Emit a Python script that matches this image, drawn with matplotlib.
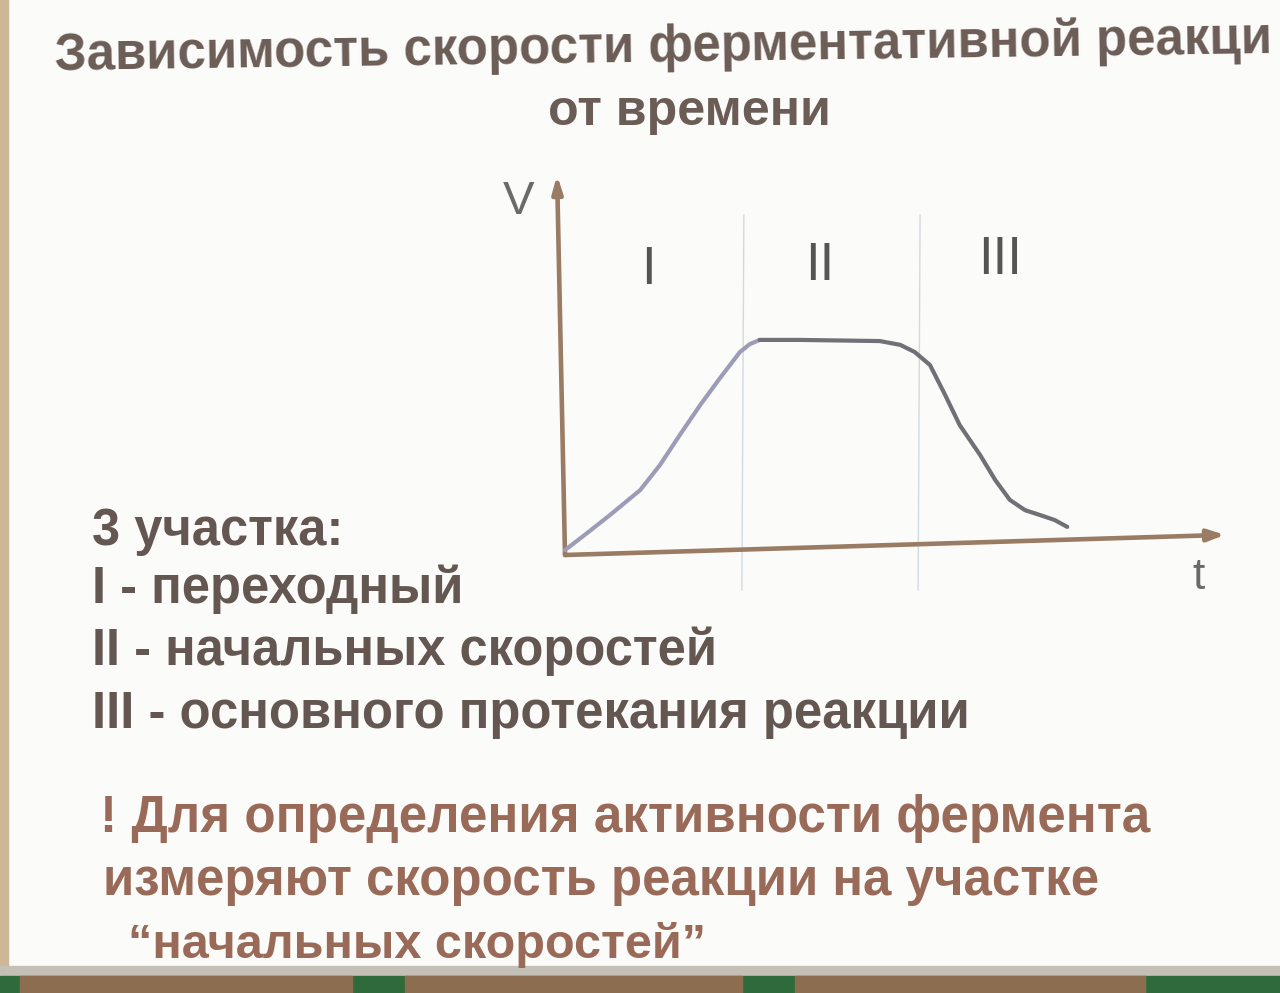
import matplotlib
matplotlib.use("Agg")
import matplotlib.pyplot as plt
from matplotlib.patches import Rectangle

# ---------------- data ----------------
t_rise = [0.0, 0.30, 0.68, 1.14, 1.44, 1.74, 2.05, 2.35, 2.65, 2.80, 2.95]
v_rise = [0.13, 0.53, 1.05, 1.71, 2.37, 3.16, 3.95, 4.66, 5.34, 5.55, 5.66]
t_fall = [2.95, 3.56, 4.77, 5.08, 5.30, 5.53, 5.76, 5.98, 6.29, 6.52,
          6.74, 6.97, 7.20, 7.42, 7.61]
v_fall = [5.66, 5.66, 5.63, 5.53, 5.34, 5.00, 4.21, 3.42, 2.63, 1.97,
          1.45, 1.18, 1.05, 0.92, 0.74]
boundaries = [2.68, 5.35]
region_labels = ["I", "II", "III"]
region_label_t = [1.26, 3.86, 6.59]
region_label_v = [7.5, 7.6, 7.75]

title_lines = ["Зависимость скорости ферментативной реакци", "от времени"]
list_lines = ["3 участка:", "I - переходный", "II - начальных скоростей",
              "III - основного протекания реакции"]
note_lines = ["! Для определения активности фермента",
              "измеряют скорость реакции на участке",
              "\u201cначальных скоростей\u201d"]

W, H = 1280, 993
fig = plt.figure(figsize=(W / 100, H / 100), dpi=100)
fig.patch.set_facecolor("#fbfbf9")
bg = fig.add_axes([0, 0, 1, 1])
bg.set_xlim(0, W)
bg.set_ylim(H, 0)
bg.axis("off")

FONT = "Liberation Sans"
renderer = fig.canvas.get_renderer()


def fit_text(s, x0, x1, yb, color, weight="bold", rot=0.0, ha="left"):
    tmp = bg.text(0, 0, s, fontsize=30, fontfamily=FONT, fontweight=weight)
    w = tmp.get_window_extent(renderer=renderer).width
    tmp.remove()
    size = 30 * (x1 - x0) / w
    x = x0 if ha == "left" else (x0 + x1) / 2
    bg.text(x, yb, s, fontsize=size, fontfamily=FONT, fontweight=weight,
            color=color, ha=ha, va="baseline", rotation=rot,
            rotation_mode="anchor")


# decorative slide borders (photo)
bg.add_patch(Rectangle((0, 0), 8, H, color="#cdb796", zorder=0))
bg.add_patch(Rectangle((0, 966), W, 10, color="#c4c0b8", zorder=0))
bg.add_patch(Rectangle((0, 976), W, 17, color="#2f6a3a", zorder=0))
for a, b in [(20, 352), (405, 742), (795, 1145)]:
    bg.add_patch(Rectangle((a, 976), b - a, 17, color="#8d6d50", zorder=0))

# title
title_col = "#6b5c56"
fit_text(title_lines[0], 55, 1270, 70, title_col, rot=0.8)
fit_text(title_lines[1], 548, 830, 125, title_col)

# list
list_col = "#645650"
list_pos = [(92, 343, 545), (92, 463, 603), (92, 716, 665), (92, 968, 728)]
for s, (x0, x1, yb) in zip(list_lines, list_pos):
    fit_text(s, x0, x1, yb, list_col)

# note
note_col = "#9a6a58"
note_pos = [(100, 1148, 832), (103, 1098, 895), (128, 705, 958)]
for s, (x0, x1, yb) in zip(note_lines, note_pos):
    fit_text(s, x0, x1, yb, note_col)

# ---------------- chart ----------------
ax = fig.add_axes([565 / W, (H - 555) / H, 660 / W, 380 / H])
ax.set_xlim(0, 10)
ax.set_ylim(0, 10)
ax.axis("off")
ax.patch.set_alpha(0)

axis_col = "#9a7b63"
ax.annotate("", xy=(-0.12, 10.0), xytext=(0, 0),
            arrowprops=dict(arrowstyle="-|>,head_length=1.0,head_width=0.3",
                            color=axis_col, lw=3.3, shrinkA=0, shrinkB=0),
            annotation_clip=False)
ax.annotate("", xy=(10.0, 0.53), xytext=(0, 0),
            arrowprops=dict(arrowstyle="-|>,head_length=1.0,head_width=0.35",
                            color=axis_col, lw=3.3, shrinkA=0, shrinkB=0),
            annotation_clip=False)

for b in boundaries:
    ax.plot([b, b + 0.03], [-0.92, 8.95], color="#d3dade", lw=1.0,
            clip_on=False, zorder=1)

ax.plot(t_rise, v_rise, color="#9d9cb8", lw=3.0, solid_capstyle="round",
        solid_joinstyle="round", zorder=3, clip_on=False)
ax.plot(t_fall, v_fall, color="#707076", lw=3.0, solid_capstyle="round",
        solid_joinstyle="round", zorder=3, clip_on=False)

for lab, tx, vy in zip(region_labels, region_label_t, region_label_v):
    ax.text(tx, vy, lab, fontsize=38, fontfamily=FONT, fontweight="normal",
            color="#555555", ha="center", va="center")

ax.text(-0.7, 9.3, "V", fontsize=34, fontfamily=FONT, color="#6a6a6a",
        ha="center", va="center")
ax.text(9.6, -0.6, "t", fontsize=32, fontfamily=FONT, color="#6a6a6a",
        ha="center", va="center")

fig.savefig("out.png", dpi=100, facecolor=fig.get_facecolor())
